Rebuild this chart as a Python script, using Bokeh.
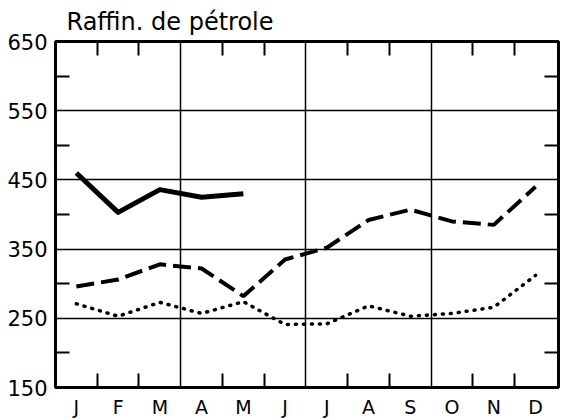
from bokeh.plotting import figure
from bokeh.models import FixedTicker, LinearAxis, Range1d, Grid
from bokeh.embed import file_html
from bokeh.resources import INLINE

months = [1, 2, 3, 4, 5, 6, 7, 8, 9, 10, 11, 12]
month_labels = ["J", "F", "M", "A", "M", "J", "J", "A", "S", "O", "N", "D"]
solid_months = [1, 2, 3, 4, 5]
solid_vals = [460, 403, 436, 425, 430]
dashed_vals = [296, 306, 328, 322, 282, 335, 352, 392, 407, 390, 385, 440]
dotted_vals = [271, 253, 273, 257, 274, 241, 242, 268, 253, 257, 266, 312]
y_ticks = [150, 250, 350, 450, 550, 650]
y_minor = [200, 300, 400, 500, 600]
x_minor = [1.5, 2.5, 4.5, 5.5, 7.5, 8.5, 10.5, 11.5]
x_grid = [3.5, 6.5, 9.5]
y_grid = [250, 350, 450, 550]
title_text = "Raffin. de pétrole"

FONT = "DejaVu Sans"

p = figure(output_backend="svg", toolbar_location=None,
           frame_width=503, frame_height=346,
           x_range=Range1d(0.5, 12.55), y_range=Range1d(150, 650),
           x_axis_type=None, y_axis_type=None,
           min_border_left=55, min_border_top=41, min_border_right=3, min_border_bottom=20)
p.background_fill_color = "white"
p.border_fill_color = "white"
p.outline_line_color = "black"
p.outline_line_width = 3

p.title.text = title_text
p.title.align = "left"
p.title.offset = 11
p.title.text_font = FONT
p.title.text_font_size = "24px"
p.title.text_font_style = "normal"
p.title.text_color = "black"
p.title.standoff = 11


def style_axis(ax, size=None, standoff=6):
    ax.axis_line_color = None
    ax.major_tick_in = 0
    ax.major_tick_out = 0
    ax.minor_tick_in = 14
    ax.minor_tick_out = 0
    ax.minor_tick_line_width = 2
    ax.minor_tick_line_color = "black"
    if size:
        ax.major_label_text_font = FONT
        ax.major_label_text_font_size = size
        ax.major_label_text_color = "black"
        ax.major_label_standoff = standoff


xt = FixedTicker(ticks=months, minor_ticks=x_minor)
xt_nolab = FixedTicker(ticks=[], minor_ticks=x_minor)
yt = FixedTicker(ticks=y_ticks, minor_ticks=y_minor)
yt_nolab = FixedTicker(ticks=[], minor_ticks=y_minor)

bottom = LinearAxis(ticker=xt, major_label_overrides={m: l for m, l in zip(months, month_labels)})
style_axis(bottom, "19px", 8)
p.add_layout(bottom, "below")

top = LinearAxis(ticker=xt_nolab)
style_axis(top)
p.add_layout(top, "above")

left = LinearAxis(ticker=yt)
style_axis(left, "21px", 8)
p.add_layout(left, "left")

right = LinearAxis(ticker=yt_nolab)
style_axis(right)
p.add_layout(right, "right")

p.add_layout(Grid(dimension=0, ticker=FixedTicker(ticks=x_grid), grid_line_color="black", grid_line_width=1.5))
p.add_layout(Grid(dimension=1, ticker=FixedTicker(ticks=y_grid), grid_line_color="black", grid_line_width=1.5))

p.line(months, dotted_vals, line_color="black", line_width=3.5, line_dash="1 7", line_cap="round")
p.line(months, dashed_vals, line_color="black", line_width=4, line_dash="18 7")
p.line(solid_months, solid_vals, line_color="black", line_width=5, line_join="round")

open("out.html", "w").write(file_html(p, INLINE))
